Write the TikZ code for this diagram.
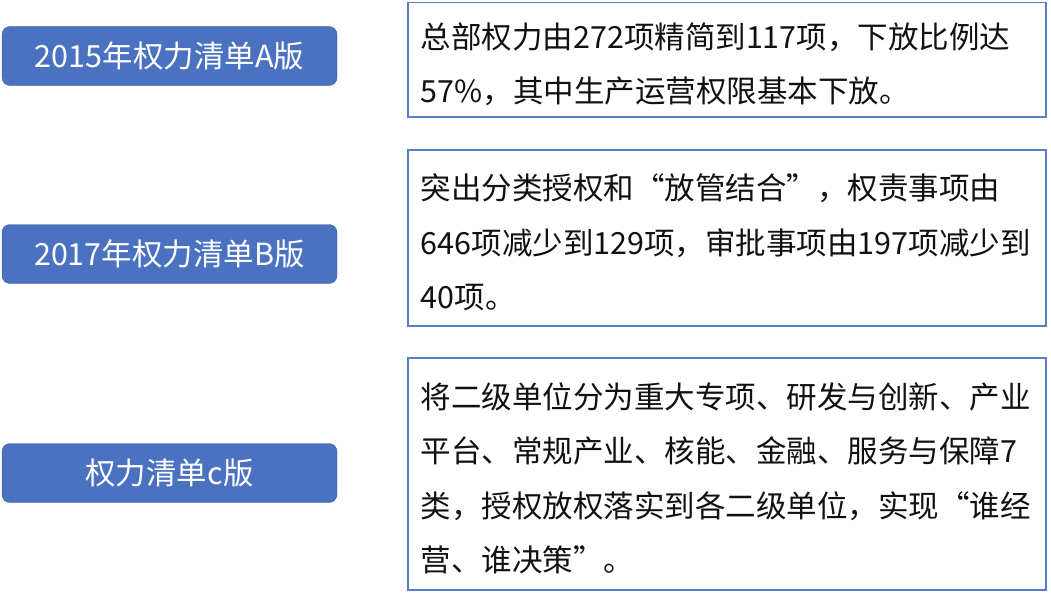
\documentclass[tikz,border=0pt]{standalone}
\usepackage{fontspec}
\setmainfont{Noto Sans CJK SC}
\usetikzlibrary{positioning}
\definecolor{tagblue}{HTML}{4A72C1}
\definecolor{tagedge}{HTML}{3B5FA8}
\definecolor{frameblue}{HTML}{5A7DC4}
\definecolor{inkgray}{HTML}{111111}

\begin{document}
\begin{tikzpicture}[x=1pt,y=-1pt,
  tag/.style={draw=tagedge,fill=tagblue,rounded corners=8pt,minimum width=335pt,
    minimum height=59pt,inner sep=0pt,text=white,font=\fontsize{30.5}{36}\selectfont},
  note/.style={draw=frameblue,line width=1.5pt,minimum width=638pt,inner xsep=13pt,
    inner ysep=0pt,text width=612pt,align=left,anchor=north west,text=inkgray,
    font=\fontsize{30.5}{54.5}\selectfont,execute at begin node={\rule{0pt}{35pt}}}]
\useasboundingbox (0,0) rectangle (1051,594);
% version tags on the left
\node[tag] (tagA) at (169.5,56) {2015年权力清单A版};
\node[tag] (tagB) at (169.5,254) {2017年权力清单B版};
\node[tag] (tagC) at (169.5,473) {权力清单c版};
% description frames on the right
\node[note,minimum height=114pt] (noteA) at (407,2)
  {总部权力由272项精简到117项，下放比例达\\57\%，其中生产运营权限基本下放。};
\node[note,minimum height=176pt] (noteB) at (407,149)
  {突出分类授权和“放管结合”，权责事项由\\646项减少到129项，审批事项由197项减少到\\40项。};
\node[note,minimum height=232pt] (noteC) at (407,357)
  {将二级单位分为重大专项、研发与创新、产业\\平台、常规产业、核能、金融、服务与保障7\\类，授权放权落实到各二级单位，实现“谁经\\营、谁决策”。};
\end{tikzpicture}
\end{document}
